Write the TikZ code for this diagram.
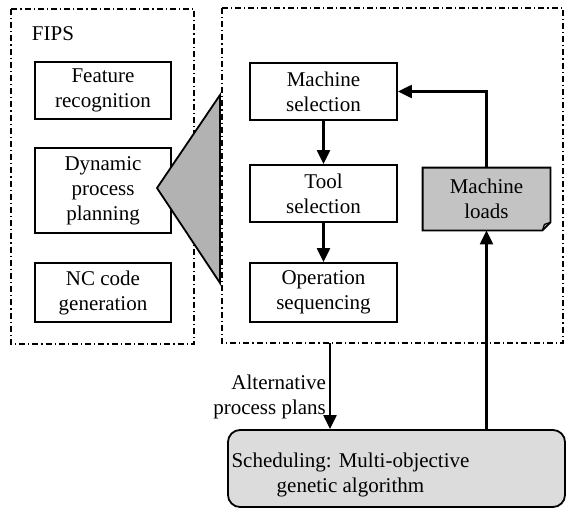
\documentclass[tikz,border=0pt]{standalone}
\usepackage{fontspec}
\setmainfont{Liberation Serif}
\usepackage{xcolor}
\usetikzlibrary{arrows.meta,positioning,calc,backgrounds}
\definecolor{wedgecolor}{RGB}{178,178,178}
\definecolor{loadcolor}{RGB}{195,195,195}
\definecolor{schedcolor}{RGB}{220,220,220}

\begin{document}
\begin{tikzpicture}[x=0.5pt,y=-0.5pt,
    font=\fontsize{10.5}{12.5}\selectfont,
    proc/.style={draw,line width=0.9pt,align=center,minimum width=68pt,inner sep=1pt},
    frame/.style={line width=0.6pt,dash pattern=on 3pt off 1.5pt on 0.6pt off 1.5pt},
    flow/.style={line width=1.1pt,-{Triangle[length=7pt,width=6.5pt]}}]
    \useasboundingbox (0,0) rectangle (569,520);

    % Draw the two dash-dot frames
    \draw[frame] (11,9) rectangle (194,344);
    \draw[frame] (222,8) rectangle (563,343);

    % FIPS modules
    \node (fips) at (53,34) {FIPS};
    \node[proc,minimum height=28.5pt] (feat) at (103,90.5) {Feature\\recognition};
    \node[proc,minimum height=42.5pt] (dyn) at (103,190.5) {Dynamic\\process\\planning};
    \node[proc,minimum height=29.5pt] (nc) at (103,292.5) {NC code\\generation};

    % Wedge linking planning to its detail
    \filldraw[fill=wedgecolor,line width=0.9pt] (157,188) -- (220,95) -- (220,283) -- cycle;

    % Dynamic process planning steps
    \node[proc,minimum width=73.5pt,minimum height=28.5pt] (msel) at (323.5,91.5) {Machine\\selection};
    \node[proc,minimum width=73.5pt,minimum height=28.5pt] (tsel) at (323.5,193.5) {Tool\\selection};
    \node[proc,minimum width=73.5pt,minimum height=29.5pt] (opseq) at (323.5,292.5) {Operation\\sequencing};
    \draw[flow] (msel) -- (tsel);
    \draw[flow] (tsel) -- (opseq);

    % Machine loads (folded note)
    \node[align=center,minimum width=63.5pt,minimum height=31pt,inner sep=1pt] (mload) at (486.5,199) {Machine\\loads};
    \begin{scope}[on background layer]
        \filldraw[fill=loadcolor,line width=0.9pt] (mload.north west) -- (mload.north east)
            -- ([yshift=4pt]mload.south east) -- ([xshift=-4pt]mload.south east)
            -- (mload.south west) -- cycle;
    \end{scope}
    \draw[line width=0.6pt] ([xshift=-4pt]mload.south east) -- ([xshift=-3pt,yshift=3pt]mload.south east)
        -- ([yshift=4pt]mload.south east);

    % Scheduling
    \node[draw,line width=0.9pt,rounded corners=6pt,fill=schedcolor,
        minimum width=168.5pt,minimum height=38.5pt] (sched) at (396.5,468.5) {};
    \node[align=center,anchor=west,inner sep=1pt] (schedtext) at ([xshift=1pt,yshift=-3pt]sched.west)
        {Scheduling: Multi-objective\\genetic algorithm};

    % Plans down, loads back up
    \coordinate (planout) at (330,343);
    \draw[flow] (planout) -- (planout |- sched.north)
        node[pos=0.63,left,align=right,inner sep=1.5pt] (plans) {Alternative\\process plans};
    \draw[flow] (sched.north -| mload) -- (mload.south);
    \draw[flow] (mload.north) |- (msel.east);
\end{tikzpicture}
\end{document}
